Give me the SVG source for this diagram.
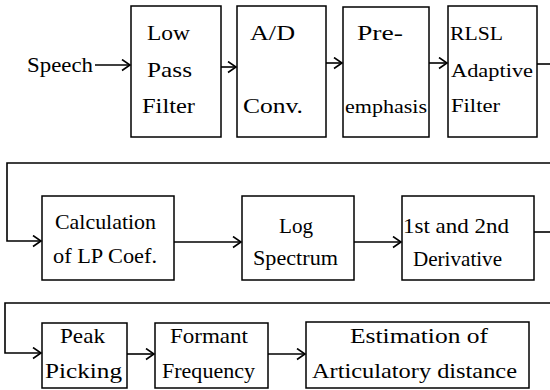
<svg xmlns="http://www.w3.org/2000/svg" width="550" height="390" viewBox="0 0 550 390" font-family="'Liberation Serif', 'Times New Roman', serif" font-size="21">
<defs>
<marker id="ah" markerUnits="userSpaceOnUse" markerWidth="12" markerHeight="14" refX="9" refY="6" orient="auto">
<path d="M1,0.5 L9,6 L1,11.5" fill="none" stroke="#000" stroke-width="1.6"/>
</marker>
<style>
rect{fill:#fff;stroke:#000;stroke-width:1.5}
.c path,.c line{fill:none;stroke:#000;stroke-width:1.6}
</style>
</defs>
<rect width="550" height="390" style="stroke:none"/>
<g id="speech"><text x="27" y="72" textLength="66" lengthAdjust="spacingAndGlyphs">Speech</text></g>
<g id="lpf"><rect x="131" y="6" width="90" height="131"/>
<text x="147" y="40" textLength="43" lengthAdjust="spacingAndGlyphs">Low</text>
<text x="147" y="77" textLength="45" lengthAdjust="spacingAndGlyphs">Pass</text>
<text x="142" y="113" textLength="53" lengthAdjust="spacingAndGlyphs">Filter</text></g>
<g id="adc"><rect x="237" y="6" width="89" height="131"/>
<text x="250" y="40" textLength="45" lengthAdjust="spacingAndGlyphs">A/D</text>
<text x="243" y="113" textLength="60" lengthAdjust="spacingAndGlyphs">Conv.</text></g>
<g id="pre"><rect x="343" y="7" width="86" height="130"/>
<text x="357" y="40" textLength="46" lengthAdjust="spacingAndGlyphs">Pre-</text>
<text x="345" y="113" textLength="82" lengthAdjust="spacingAndGlyphs" font-size="18">emphasis</text></g>
<g id="rlsl"><rect x="448" y="6" width="89" height="131"/>
<text x="450" y="40" textLength="53" lengthAdjust="spacingAndGlyphs" font-size="19">RLSL</text>
<text x="451" y="77" textLength="82" lengthAdjust="spacingAndGlyphs" font-size="19">Adaptive</text>
<text x="451" y="112" textLength="49" lengthAdjust="spacingAndGlyphs" font-size="18">Filter</text></g>
<g id="calc"><rect x="42" y="196" width="132" height="84"/>
<text x="55" y="229" textLength="101" lengthAdjust="spacingAndGlyphs">Calculation</text>
<text x="53" y="263" textLength="104" lengthAdjust="spacingAndGlyphs">of LP Coef.</text></g>
<g id="logspec"><rect x="242" y="196" width="112" height="84"/>
<text x="279" y="233" textLength="34" lengthAdjust="spacingAndGlyphs">Log</text>
<text x="253" y="265" textLength="85" lengthAdjust="spacingAndGlyphs">Spectrum</text></g>
<g id="deriv"><rect x="402" y="196" width="132" height="84"/>
<text x="403" y="233" textLength="106" lengthAdjust="spacingAndGlyphs">1st and 2nd</text>
<text x="413" y="266" textLength="89" lengthAdjust="spacingAndGlyphs">Derivative</text></g>
<g id="peak"><rect x="42" y="323" width="85" height="65"/>
<text x="60" y="343" textLength="45" lengthAdjust="spacingAndGlyphs">Peak</text>
<text x="45" y="378" textLength="77" lengthAdjust="spacingAndGlyphs">Picking</text></g>
<g id="formant"><rect x="155" y="323" width="113" height="65"/>
<text x="170" y="343" textLength="78" lengthAdjust="spacingAndGlyphs">Formant</text>
<text x="162" y="378" textLength="93" lengthAdjust="spacingAndGlyphs">Frequency</text></g>
<g id="estim"><rect x="306" y="322" width="223" height="66"/>
<text x="350" y="343" textLength="138" lengthAdjust="spacingAndGlyphs">Estimation of</text>
<text x="312" y="378" textLength="205" lengthAdjust="spacingAndGlyphs">Articulatory distance</text></g>
<g class="c" id="connectors">
<line x1="95" y1="65" x2="130" y2="65" marker-end="url(#ah)"/>
<line x1="221" y1="67" x2="236" y2="67" marker-end="url(#ah)"/>
<line x1="326" y1="63" x2="342" y2="63" marker-end="url(#ah)"/>
<line x1="429" y1="63" x2="447" y2="63" marker-end="url(#ah)"/>
<line x1="537" y1="64" x2="550" y2="64"/>
<path d="M550,163 H7 V241 H41" marker-end="url(#ah)"/>
<line x1="174" y1="242" x2="241" y2="242" marker-end="url(#ah)"/>
<line x1="354" y1="242" x2="401" y2="242" marker-end="url(#ah)"/>
<line x1="534" y1="232" x2="550" y2="232"/>
<path d="M550,303 H5 V353 H41" marker-end="url(#ah)"/>
<line x1="127" y1="354" x2="154" y2="354" marker-end="url(#ah)"/>
<line x1="268" y1="354" x2="305" y2="354" marker-end="url(#ah)"/>
</g>
</svg>
